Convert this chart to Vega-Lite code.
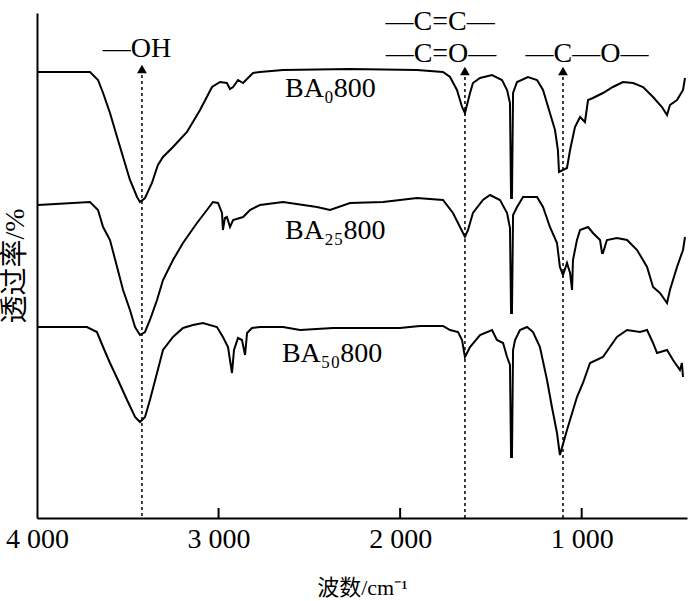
{
  "$schema": "https://vega.github.io/schema/vega-lite/v6.json",
  "width": 650,
  "height": 505,
  "autosize": "none",
  "padding": {"left": 37, "top": 13, "right": 13, "bottom": 83},
  "background": "white",
  "config": {"view": {"stroke": null}, "font": "Liberation Serif"},
  "datasets": {
    "spectra": [
      {"s":"BA0","w":3994,"t":446},{"s":"BA0","w":3708,"t":446},{"s":"BA0","w":3664,"t":438},{"s":"BA0","w":3636,"t":425},{"s":"BA0","w":3598,"t":405},{"s":"BA0","w":3559,"t":381},{"s":"BA0","w":3526,"t":361},{"s":"BA0","w":3488,"t":338},{"s":"BA0","w":3449,"t":321},{"s":"BA0","w":3433,"t":316},{"s":"BA0","w":3405,"t":320},{"s":"BA0","w":3367,"t":335},{"s":"BA0","w":3334,"t":353},{"s":"BA0","w":3306,"t":361},{"s":"BA0","w":3251,"t":371},{"s":"BA0","w":3174,"t":386},{"s":"BA0","w":3102,"t":408},{"s":"BA0","w":3036,"t":431},{"s":"BA0","w":2992,"t":436},{"s":"BA0","w":2954,"t":435},{"s":"BA0","w":2937,"t":429},{"s":"BA0","w":2920,"t":431},{"s":"BA0","w":2893,"t":438},{"s":"BA0","w":2865,"t":435},{"s":"BA0","w":2838,"t":440},{"s":"BA0","w":2810,"t":445},{"s":"BA0","w":2772,"t":446},{"s":"BA0","w":2645,"t":448},{"s":"BA0","w":2276,"t":449},{"s":"BA0","w":1907,"t":448},{"s":"BA0","w":1764,"t":446},{"s":"BA0","w":1725,"t":441},{"s":"BA0","w":1687,"t":428},{"s":"BA0","w":1659,"t":411},{"s":"BA0","w":1643,"t":405},{"s":"BA0","w":1615,"t":425},{"s":"BA0","w":1599,"t":435},{"s":"BA0","w":1560,"t":440},{"s":"BA0","w":1494,"t":443},{"s":"BA0","w":1439,"t":438},{"s":"BA0","w":1411,"t":428},{"s":"BA0","w":1395,"t":415},{"s":"BA0","w":1389,"t":320},{"s":"BA0","w":1384,"t":320},{"s":"BA0","w":1378,"t":425},{"s":"BA0","w":1356,"t":436},{"s":"BA0","w":1296,"t":441},{"s":"BA0","w":1246,"t":438},{"s":"BA0","w":1213,"t":428},{"s":"BA0","w":1175,"t":405},{"s":"BA0","w":1147,"t":388},{"s":"BA0","w":1131,"t":368},{"s":"BA0","w":1125,"t":346},{"s":"BA0","w":1081,"t":350},{"s":"BA0","w":1064,"t":368},{"s":"BA0","w":1037,"t":391},{"s":"BA0","w":1009,"t":401},{"s":"BA0","w":982,"t":396},{"s":"BA0","w":965,"t":418},{"s":"BA0","w":938,"t":420},{"s":"BA0","w":883,"t":425},{"s":"BA0","w":828,"t":431},{"s":"BA0","w":773,"t":436},{"s":"BA0","w":717,"t":435},{"s":"BA0","w":662,"t":431},{"s":"BA0","w":607,"t":421},{"s":"BA0","w":558,"t":411},{"s":"BA0","w":530,"t":403},{"s":"BA0","w":514,"t":413},{"s":"BA0","w":475,"t":418},{"s":"BA0","w":442,"t":428},{"s":"BA0","w":431,"t":440},
      {"s":"BA25","w":3994,"t":313},{"s":"BA25","w":3708,"t":316},{"s":"BA25","w":3664,"t":308},{"s":"BA25","w":3636,"t":291},{"s":"BA25","w":3598,"t":278},{"s":"BA25","w":3559,"t":251},{"s":"BA25","w":3526,"t":228},{"s":"BA25","w":3488,"t":208},{"s":"BA25","w":3460,"t":191},{"s":"BA25","w":3433,"t":183},{"s":"BA25","w":3405,"t":186},{"s":"BA25","w":3378,"t":198},{"s":"BA25","w":3339,"t":218},{"s":"BA25","w":3306,"t":238},{"s":"BA25","w":3251,"t":258},{"s":"BA25","w":3196,"t":275},{"s":"BA25","w":3119,"t":295},{"s":"BA25","w":3064,"t":308},{"s":"BA25","w":3031,"t":316},{"s":"BA25","w":3003,"t":315},{"s":"BA25","w":2981,"t":305},{"s":"BA25","w":2976,"t":288},{"s":"BA25","w":2965,"t":300},{"s":"BA25","w":2954,"t":301},{"s":"BA25","w":2937,"t":291},{"s":"BA25","w":2920,"t":298},{"s":"BA25","w":2865,"t":301},{"s":"BA25","w":2827,"t":308},{"s":"BA25","w":2772,"t":313},{"s":"BA25","w":2645,"t":316},{"s":"BA25","w":2458,"t":311},{"s":"BA25","w":2386,"t":308},{"s":"BA25","w":2276,"t":315},{"s":"BA25","w":2094,"t":316},{"s":"BA25","w":1907,"t":320},{"s":"BA25","w":1764,"t":318},{"s":"BA25","w":1709,"t":305},{"s":"BA25","w":1670,"t":291},{"s":"BA25","w":1643,"t":281},{"s":"BA25","w":1626,"t":288},{"s":"BA25","w":1599,"t":305},{"s":"BA25","w":1544,"t":318},{"s":"BA25","w":1505,"t":323},{"s":"BA25","w":1450,"t":318},{"s":"BA25","w":1411,"t":305},{"s":"BA25","w":1395,"t":290},{"s":"BA25","w":1389,"t":205},{"s":"BA25","w":1384,"t":205},{"s":"BA25","w":1378,"t":303},{"s":"BA25","w":1356,"t":311},{"s":"BA25","w":1323,"t":321},{"s":"BA25","w":1246,"t":321},{"s":"BA25","w":1213,"t":311},{"s":"BA25","w":1175,"t":291},{"s":"BA25","w":1136,"t":275},{"s":"BA25","w":1120,"t":251},{"s":"BA25","w":1103,"t":243},{"s":"BA25","w":1081,"t":255},{"s":"BA25","w":1064,"t":245},{"s":"BA25","w":1053,"t":228},{"s":"BA25","w":1048,"t":258},{"s":"BA25","w":1026,"t":278},{"s":"BA25","w":1009,"t":288},{"s":"BA25","w":965,"t":291},{"s":"BA25","w":938,"t":285},{"s":"BA25","w":899,"t":278},{"s":"BA25","w":888,"t":265},{"s":"BA25","w":883,"t":265},{"s":"BA25","w":861,"t":278},{"s":"BA25","w":806,"t":280},{"s":"BA25","w":750,"t":278},{"s":"BA25","w":695,"t":268},{"s":"BA25","w":640,"t":251},{"s":"BA25","w":607,"t":231},{"s":"BA25","w":569,"t":225},{"s":"BA25","w":530,"t":215},{"s":"BA25","w":514,"t":228},{"s":"BA25","w":475,"t":251},{"s":"BA25","w":442,"t":268},{"s":"BA25","w":431,"t":281},
      {"s":"BA50","w":3994,"t":191},{"s":"BA50","w":3725,"t":191},{"s":"BA50","w":3670,"t":186},{"s":"BA50","w":3636,"t":171},{"s":"BA50","w":3598,"t":155},{"s":"BA50","w":3554,"t":138},{"s":"BA50","w":3504,"t":118},{"s":"BA50","w":3460,"t":101},{"s":"BA50","w":3433,"t":96},{"s":"BA50","w":3405,"t":101},{"s":"BA50","w":3378,"t":118},{"s":"BA50","w":3339,"t":145},{"s":"BA50","w":3306,"t":168},{"s":"BA50","w":3251,"t":181},{"s":"BA50","w":3196,"t":190},{"s":"BA50","w":3141,"t":193},{"s":"BA50","w":3086,"t":195},{"s":"BA50","w":3009,"t":191},{"s":"BA50","w":2976,"t":181},{"s":"BA50","w":2948,"t":171},{"s":"BA50","w":2926,"t":145},{"s":"BA50","w":2915,"t":168},{"s":"BA50","w":2893,"t":180},{"s":"BA50","w":2871,"t":178},{"s":"BA50","w":2854,"t":163},{"s":"BA50","w":2843,"t":185},{"s":"BA50","w":2816,"t":190},{"s":"BA50","w":2772,"t":191},{"s":"BA50","w":2645,"t":191},{"s":"BA50","w":2551,"t":188},{"s":"BA50","w":2370,"t":190},{"s":"BA50","w":2182,"t":190},{"s":"BA50","w":2001,"t":190},{"s":"BA50","w":1891,"t":192},{"s":"BA50","w":1764,"t":192},{"s":"BA50","w":1725,"t":188},{"s":"BA50","w":1681,"t":186},{"s":"BA50","w":1659,"t":178},{"s":"BA50","w":1643,"t":161},{"s":"BA50","w":1615,"t":171},{"s":"BA50","w":1560,"t":183},{"s":"BA50","w":1494,"t":188},{"s":"BA50","w":1467,"t":178},{"s":"BA50","w":1433,"t":175},{"s":"BA50","w":1411,"t":161},{"s":"BA50","w":1395,"t":153},{"s":"BA50","w":1389,"t":61},{"s":"BA50","w":1384,"t":61},{"s":"BA50","w":1378,"t":168},{"s":"BA50","w":1367,"t":178},{"s":"BA50","w":1340,"t":188},{"s":"BA50","w":1301,"t":191},{"s":"BA50","w":1268,"t":186},{"s":"BA50","w":1230,"t":171},{"s":"BA50","w":1191,"t":138},{"s":"BA50","w":1164,"t":111},{"s":"BA50","w":1136,"t":85},{"s":"BA50","w":1120,"t":63},{"s":"BA50","w":1081,"t":88},{"s":"BA50","w":1026,"t":121},{"s":"BA50","w":993,"t":135},{"s":"BA50","w":954,"t":155},{"s":"BA50","w":883,"t":161},{"s":"BA50","w":806,"t":181},{"s":"BA50","w":750,"t":188},{"s":"BA50","w":679,"t":186},{"s":"BA50","w":640,"t":188},{"s":"BA50","w":607,"t":175},{"s":"BA50","w":585,"t":165},{"s":"BA50","w":530,"t":168},{"s":"BA50","w":497,"t":158},{"s":"BA50","w":459,"t":148},{"s":"BA50","w":448,"t":155},{"s":"BA50","w":442,"t":141}
    ]
  },
  "layer": [
    {
      "data": {"name": "spectra"},
      "mark": {"type": "line", "color": "black", "strokeWidth": 2, "strokeJoin": "miter"},
      "encoding": {
        "x": {"field": "w", "type": "quantitative",
          "scale": {"domain": [4000, 420], "nice": false, "zero": false},
          "axis": {"values": [4000, 3000, 2000, 1000], "labelExpr": "replace(format(datum.value, ','), ',', ' ')",
            "grid": false, "domainColor": "black", "domainWidth": 2, "ticks": false, "tickSize": 0,
            "labelFont": "Liberation Serif", "labelFontSize": 28, "labelColor": "black", "labelPadding": 7, "labelFlush": false, "labelOverlap": false,
            "title": "波数/cm⁻¹", "titleFont": "Liberation Serif, Noto Sans CJK SC", "titleFontSize": 22, "titleFontWeight": "normal", "titleColor": "black", "titlePadding": 24}},
        "y": {"field": "t", "type": "quantitative",
          "scale": {"domain": [0, 505], "nice": false, "zero": false},
          "axis": {"labels": false, "ticks": false, "grid": false, "domainColor": "black", "domainWidth": 2,
            "title": "透过率/%", "titleFont": "Liberation Serif, Noto Sans CJK SC", "titleFontSize": 28, "titleFontWeight": "normal", "titleColor": "black", "titlePadding": 8}},
        "detail": {"field": "s"}
      }
    },
    {
      "data": {"values": [{"w": 3000, "t1": 10, "t2": 0}, {"w": 2000, "t1": 10, "t2": 0}, {"w": 1000, "t1": 10, "t2": 0}]},
      "mark": {"type": "rule", "color": "black", "strokeWidth": 2},
      "encoding": {"x": {"field": "w", "type": "quantitative"}, "y": {"field": "t1", "type": "quantitative"}, "y2": {"field": "t2"}}
    },
    {
      "data": {"values": [{"w": 3422, "t1": 443, "t2": 0}, {"w": 1643, "t1": 441, "t2": 0}, {"w": 1103, "t1": 441, "t2": 0}]},
      "mark": {"type": "rule", "color": "black", "strokeWidth": 1.5, "strokeDash": [3, 3]},
      "encoding": {"x": {"field": "w", "type": "quantitative"}, "y": {"field": "t1", "type": "quantitative"}, "y2": {"field": "t2"}}
    },
    {
      "data": {"values": [{"w": 3422, "t": 449}, {"w": 1643, "t": 447}, {"w": 1103, "t": 447}]},
      "mark": {"type": "point", "shape": "triangle-up", "filled": true, "color": "black", "opacity": 1, "size": 95},
      "encoding": {"x": {"field": "w", "type": "quantitative"}, "y": {"field": "t", "type": "quantitative"}}
    },
    {
      "data": {"values": [
        {"w": 3449, "t": 461, "label": "—OH"},
        {"w": 1780, "t": 488, "label": "—C=C—"},
        {"w": 1775, "t": 456, "label": "—C=O—"},
        {"w": 971, "t": 456, "label": "—C—O—"}
      ]},
      "mark": {"type": "text", "font": "Liberation Serif", "fontSize": 28, "color": "black", "align": "center", "baseline": "alphabetic"},
      "encoding": {"x": {"field": "w", "type": "quantitative"}, "y": {"field": "t", "type": "quantitative"}, "text": {"field": "label"}}
    },
    {
      "data": {"values": [
        {"w": 2634, "t": 421, "label": "BA₀800"},
        {"w": 2634, "t": 279, "label": "BA₂₅800"},
        {"w": 2651, "t": 156, "label": "BA₅₀800"}
      ]},
      "mark": {"type": "text", "font": "Liberation Serif", "fontSize": 28, "color": "black", "align": "left", "baseline": "alphabetic"},
      "encoding": {"x": {"field": "w", "type": "quantitative"}, "y": {"field": "t", "type": "quantitative"}, "text": {"field": "label"}}
    }
  ]
}
